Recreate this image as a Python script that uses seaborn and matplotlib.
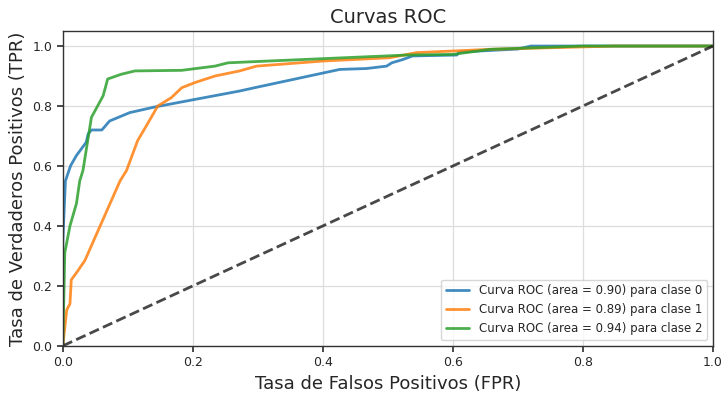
import numpy as np
import pandas as pd
import seaborn as sns
import matplotlib
matplotlib.use("Agg")
import matplotlib.pyplot as plt

labels = ["Curva ROC (area = 0.90) para clase 0",
          "Curva ROC (area = 0.89) para clase 1",
          "Curva ROC (area = 0.94) para clase 2"]
colors = ["#1f77b4", "#ff7f0e", "#2ca02c"]

fpr0 = [0.0, 0.0, 0.004, 0.012, 0.021, 0.036, 0.039, 0.044, 0.06, 0.072, 0.103, 0.142,
        0.272, 0.295, 0.426, 0.467, 0.498, 0.506, 0.523, 0.538, 0.606, 0.61, 0.70, 0.72, 1.0]
tpr0 = [0.0, 0.35, 0.55, 0.601, 0.635, 0.679, 0.707, 0.72, 0.72, 0.75, 0.778, 0.797,
        0.850, 0.861, 0.922, 0.925, 0.933, 0.944, 0.955, 0.967, 0.970, 0.980, 0.99, 1.0, 1.0]

fpr1 = [0.0, 0.006, 0.011, 0.013, 0.023, 0.034, 0.088, 0.098, 0.115, 0.136, 0.146, 0.167,
        0.183, 0.203, 0.234, 0.272, 0.298, 0.4, 0.503, 0.544, 0.657, 0.85, 1.0]
tpr1 = [0.0, 0.12, 0.14, 0.22, 0.25, 0.285, 0.55, 0.585, 0.684, 0.762, 0.80, 0.828,
        0.861, 0.878, 0.90, 0.917, 0.933, 0.950, 0.961, 0.978, 0.989, 1.0, 1.0]

fpr2 = [0.0, 0.003, 0.011, 0.021, 0.026, 0.031, 0.044, 0.062, 0.069, 0.09, 0.111, 0.183,
        0.234, 0.254, 0.295, 0.529, 0.60, 0.657, 0.80, 1.0]
tpr2 = [0.0, 0.31, 0.40, 0.475, 0.55, 0.585, 0.762, 0.834, 0.89, 0.906, 0.917, 0.919,
        0.933, 0.944, 0.948, 0.970, 0.972, 0.989, 1.0, 1.0]

frames = []
for lab, f, t in zip(labels, [fpr0, fpr1, fpr2], [tpr0, tpr1, tpr2]):
    frames.append(pd.DataFrame({"fpr": f, "tpr": t, "curve": lab, "order": range(len(f))}))
df = pd.concat(frames, ignore_index=True)

sns.set_theme(style="whitegrid")
plt.rcParams["font.family"] = ["DejaVu Sans"]

fig = plt.figure(figsize=(7.22, 3.93), dpi=100)
ax = fig.add_axes([0.087, 0.12, 0.9005, 0.801])

sns.lineplot(data=df, x="fpr", y="tpr", hue="curve", palette=colors, sort=False,
             estimator=None, units="curve", lw=2, ax=ax, alpha=0.85)
ax.plot([0, 1], [0, 1], "k--", lw=2, alpha=0.8)

ax.set_xlim(0.0, 1.0)
ax.set_ylim(0.0, 1.05)
ax.set_xticks([0.0, 0.2, 0.4, 0.6, 0.8, 1.0])
ax.set_yticks([0.0, 0.2, 0.4, 0.6, 0.8, 1.0])
ax.set_xticklabels(["0.0", "0.2", "0.4", "0.6", "0.8", "1.0"])
ax.set_yticklabels(["0.0", "0.2", "0.4", "0.6", "0.8", "1.0"])
ax.tick_params(axis="both", labelsize=9, length=4, color="#333333", left=True, bottom=True)
for s in ax.spines.values():
    s.set_color("#333333")
    s.set_linewidth(1.0)
ax.grid(True, color="#dddddd", lw=0.9)

ax.set_title("Curvas ROC", fontsize=14)
ax.set_xlabel("Tasa de Falsos Positivos (FPR)", fontsize=13)
ax.set_ylabel("Tasa de Verdaderos Positivos (TPR)", fontsize=13)

leg = ax.legend(loc="lower right", fontsize=8.5, frameon=True, title=None)
leg.get_frame().set_edgecolor("#cccccc")

fig.savefig("out.png", dpi=100)
